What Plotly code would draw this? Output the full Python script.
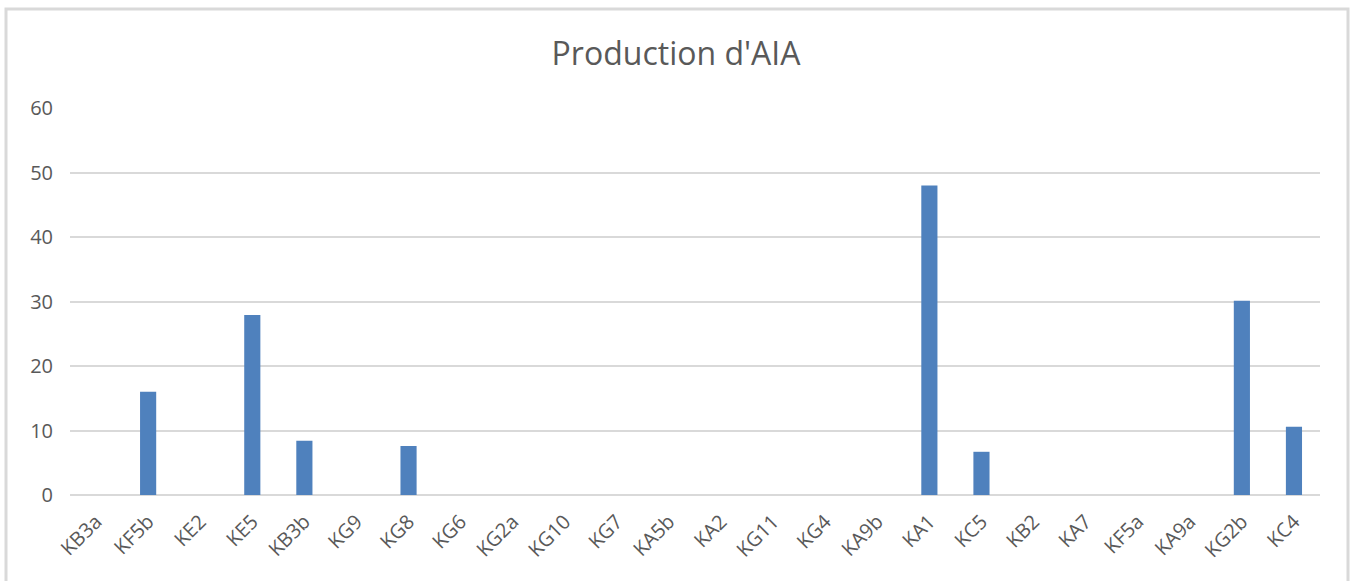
import plotly.graph_objects as go

categories = ["KB3a", "KF5b", "KE2", "KE5", "KB3b", "KG9", "KG8", "KG6", "KG2a", "KG10",
              "KG7", "KA5b", "KA2", "KG11", "KG4", "KA9b", "KA1", "KC5", "KB2", "KA7",
              "KF5a", "KA9a", "KG2b", "KC4"]
values = [0, 16, 0, 27.9, 8.4, 0, 7.6, 0, 0, 0,
          0, 0, 0, 0, 0, 0, 48, 6.7, 0, 0,
          0, 0, 30.1, 10.6]
y_ticks = [0, 10, 20, 30, 40, 50, 60]

title_text = "Production d'AIA"
font_family = "Open Sans"
text_color = "#595959"
grid_color = "#d9d9d9"
bar_color = "#4f81bd"

L, R, T, B = 70, 32, 108, 86
W, H = 1352, 581
pw, ph = W - L - R, H - T - B
base_y = H - B  # pixel row of the x axis

fig = go.Figure()
fig.add_trace(go.Bar(x=categories, y=values, marker=dict(color=bar_color, line=dict(width=0))))

fig.update_layout(
    width=W, height=H,
    margin=dict(l=L, r=R, t=T, b=B),
    paper_bgcolor="white", plot_bgcolor="white",
    bargap=0.69,
    showlegend=False,
    font=dict(family=font_family, color=text_color),
    title=dict(text=title_text, x=0.5, xanchor="center", y=1 - 54 / H, yanchor="middle",
               font=dict(size=32, color=text_color, family=font_family)),
)
fig.update_xaxes(tickangle=-45, tickfont=dict(size=20, color=text_color), showgrid=False,
                 showline=False, ticks="", zeroline=False, ticklabelstandoff=10)
fig.update_yaxes(range=[0, 60], tickvals=y_ticks, tickfont=dict(size=20, color=text_color),
                 showgrid=True, gridcolor=grid_color, gridwidth=2, zeroline=True,
                 zerolinecolor=grid_color, zerolinewidth=2, showline=False, ticks="",
                 ticklabelstandoff=16)
# chart outer border
fig.add_shape(type="rect", xref="paper", yref="paper",
              x0=(6 - L) / pw, x1=(1348 - L) / pw,
              y0=(base_y - (H + 10)) / ph, y1=(base_y - 9) / ph,
              line=dict(color=grid_color, width=3), fillcolor="rgba(0,0,0,0)", layer="below")

fig.write_html("out.html")
